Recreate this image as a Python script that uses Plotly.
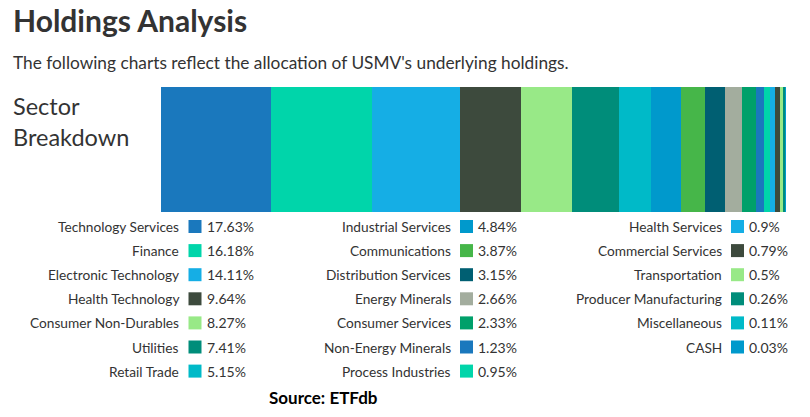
import plotly.graph_objects as go

sectors = ["Technology Services", "Finance", "Electronic Technology", "Health Technology",
           "Consumer Non-Durables", "Utilities", "Retail Trade", "Industrial Services",
           "Communications", "Distribution Services", "Energy Minerals", "Consumer Services",
           "Non-Energy Minerals", "Process Industries", "Health Services", "Commercial Services",
           "Transportation", "Producer Manufacturing", "Miscellaneous", "CASH"]
weights = [17.63, 16.18, 14.11, 9.64, 8.27, 7.41, 5.15, 4.84, 3.87, 3.15, 2.66, 2.33,
           1.23, 0.95, 0.9, 0.79, 0.5, 0.26, 0.11, 0.03]
palette = ["#1a78bd", "#00d5aa", "#15aee5", "#3d4a3d", "#98e987", "#008d7a",
           "#00bac8", "#0099cc", "#46b649", "#005f72", "#a3ad9e", "#00a06a"]
colors = [palette[i % len(palette)] for i in range(len(sectors))]

W, H = 810, 417
fig = go.Figure()

# stacked horizontal bar
for s, v, c in zip(sectors, weights, colors):
    fig.add_trace(go.Bar(x=[v], y=["Sector"], orientation="h", marker=dict(color=c, line=dict(width=0)),
                         name=s, showlegend=False, hoverinfo="name+x", xaxis="x", yaxis="y"))

# legend layout (pixel coordinates on a full-page axis)
col_rows = [7, 7, 6]
col_swatch = [195, 466.5, 737.5]
row0, dy = 226.5, 24.1
sx, sy, annotations = [], [], []
idx = 0
for ci, n in enumerate(col_rows):
    for r in range(n):
        cx = col_swatch[ci]
        cy = row0 + r * dy
        sx.append(cx); sy.append(cy)
        annotations.append(dict(x=cx - 14, y=cy, xref="x2", yref="y2", text=sectors[idx],
                                xanchor="right", yanchor="middle", showarrow=False,
                                font=dict(family="Lato", size=13.7, color="#333")))
        annotations.append(dict(x=cx + 9.5, y=cy, xref="x2", yref="y2", text=f"{weights[idx]}%",
                                xanchor="left", yanchor="middle", showarrow=False,
                                font=dict(family="Lato", size=14, color="#333")))
        idx += 1

fig.add_trace(go.Scatter(x=sx, y=sy, mode="markers", xaxis="x2", yaxis="y2",
                         marker=dict(symbol="square", size=13, color=colors, line=dict(width=0)),
                         showlegend=False, hoverinfo="skip"))

annotations += [
    dict(x=11, y=20, xref="x2", yref="y2", text="<b>Holdings Analysis</b>", xanchor="left",
         yanchor="middle", showarrow=False, font=dict(family="Lato", size=30, color="#333")),
    dict(x=11, y=62, xref="x2", yref="y2",
         text="The following charts reflect the allocation of USMV's underlying holdings.",
         xanchor="left", yanchor="middle", showarrow=False,
         font=dict(family="Lato", size=17.3, color="#333")),
    dict(x=11, y=121, xref="x2", yref="y2", text="Sector<br>Breakdown", xanchor="left",
         yanchor="middle", align="left", showarrow=False,
         font=dict(family="Lato", size=23.5, color="#333")),
    dict(x=323, y=397, xref="x2", yref="y2", text="<b>Source: ETFdb</b>", xanchor="center",
         yanchor="middle", showarrow=False, font=dict(family="Lato", size=17, color="#000")),
]

fig.update_layout(
    width=W, height=H, margin=dict(l=0, r=0, t=0, b=0),
    paper_bgcolor="white", plot_bgcolor="rgba(0,0,0,0)",
    barmode="stack", bargap=0,
    xaxis=dict(domain=[161 / W, 786 / W], range=[0, sum(weights)], visible=False, fixedrange=True,
               anchor="y"),
    yaxis=dict(domain=[1 - 212 / H, 1 - 87 / H], visible=False, fixedrange=True, anchor="x"),
    xaxis2=dict(domain=[0, 1], range=[0, W], visible=False, anchor="y2", fixedrange=True),
    yaxis2=dict(domain=[0, 1], range=[H, 0], visible=False, anchor="x2", fixedrange=True),
    annotations=annotations,
)

fig.write_html("out.html")
